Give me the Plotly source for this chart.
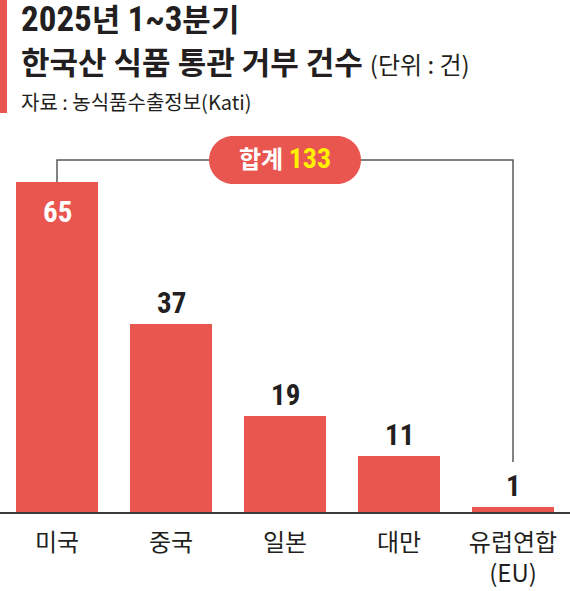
import plotly.graph_objects as go

# ---- data ----
categories = ["미국", "중국", "일본", "대만", "유럽연합<br>(EU)"]
values = [65, 37, 19, 11, 1]
total_label = "133"

# ---- style ----
W, H = 570, 591
BASE_PX = 512          # pixel row of the baseline
PX_PER_UNIT = 5.077
RED = "#E9554F"
TXT = "#231f20"
NARROW = ("Roboto Condensed, Liberation Sans Narrow, DejaVu Sans Condensed, "
          "Noto Sans CJK KR, sans-serif")
KR = "Noto Sans CJK KR, sans-serif"

ymax = BASE_PX / PX_PER_UNIT


def px(p):
    return p / W


def py(p):
    return (BASE_PX - p) / BASE_PX


fig = go.Figure()
fig.add_trace(go.Bar(
    x=list(range(len(values))), y=values, width=0.72,
    marker=dict(color=RED, line=dict(width=0)),
    hoverinfo="skip",
))

annotations = []
# value labels
for i, v in enumerate(values):
    inside = (i == 0)
    annotations.append(dict(
        x=i, y=v, xref="x", yref="y", text=f"<b>{v}</b>", showarrow=False,
        yanchor="middle", xanchor="center", yshift=-30 if inside else 21,
        font=dict(family=NARROW, size=29, color="white" if inside else TXT),
    ))

# titles
D = "<span style='font-size:35px'>"
annotations += [
    dict(x=px(19), y=py(19), xref="paper", yref="paper", xanchor="left", yanchor="middle",
         text=f"<b>{D}2025</span>년 {D}1~3</span>분기</b>", showarrow=False,
         font=dict(family=NARROW, size=31, color=TXT)),
    dict(x=px(19), y=py(60), xref="paper", yref="paper", xanchor="left", yanchor="middle",
         text="<b>한국산 식품 통관 거부 건수</b> <span style='font-size:24px'>(단위 : 건)</span>",
         showarrow=False, font=dict(family=KR, size=31, color=TXT)),
    dict(x=px(19), y=py(101), xref="paper", yref="paper", xanchor="left", yanchor="middle",
         text="자료 : 농식품수출정보(Kati)", showarrow=False,
         font=dict(family=KR, size=20, color=TXT)),
    dict(x=px(284.5), y=py(158), xref="paper", yref="paper", xanchor="center", yanchor="middle",
         text=f"<b>합계 <span style='color:#FFF200;font-size:28px'>{total_label}</span></b>",
         showarrow=False, font=dict(family=NARROW, size=24, color="white")),
]

# bracket
BRACKET_Y = (BASE_PX - 160) / PX_PER_UNIT
END_Y = (BASE_PX - 462) / PX_PER_UNIT
shapes = [
    dict(type="path", xref="x", yref="y",
         path=f"M 0,{values[0]} V {BRACKET_Y} H {len(values)-1} V {END_Y}",
         line=dict(color="#58595b", width=1.5), layer="above"),
    dict(type="rect", xref="paper", yref="paper", x0=0, x1=px(7), y0=py(113), y1=py(0),
         fillcolor=RED, line=dict(width=0)),
]

# pill
L, R, T, B = 209, 361, 136, 184
r = (B - T) / 2
cy = (T + B) / 2
k = 0.5523 * r


def P(a, b):
    return f"{px(a):.5f},{py(b):.5f}"


pill = (f"M {P(L + r, T)} L {P(R - r, T)} "
        f"C {P(R - r + k, T)} {P(R, cy - k)} {P(R, cy)} "
        f"C {P(R, cy + k)} {P(R - r + k, B)} {P(R - r, B)} "
        f"L {P(L + r, B)} "
        f"C {P(L + r - k, B)} {P(L, cy + k)} {P(L, cy)} "
        f"C {P(L, cy - k)} {P(L + r - k, T)} {P(L + r, T)} Z")
shapes.append(dict(type="path", xref="paper", yref="paper", path=pill,
                   fillcolor=RED, line=dict(width=0), layer="above"))

fig.update_layout(
    width=W, height=H, margin=dict(l=0, r=0, t=0, b=H - BASE_PX, pad=0),
    paper_bgcolor="white", plot_bgcolor="white", showlegend=False,
    annotations=annotations, shapes=shapes, bargap=0,
    xaxis=dict(range=[-0.5, len(values) - 0.5], tickvals=list(range(len(values))),
               ticktext=categories, showgrid=False, zeroline=False,
               showline=True, linecolor="#3a3a3a", linewidth=1.5, ticks="",
               ticklabelstandoff=8,
               tickfont=dict(family=KR, size=24, color=TXT), fixedrange=True),
    yaxis=dict(range=[0, ymax], visible=False, fixedrange=True),
)

fig.write_html("out.html", config={"displayModeBar": False},
               post_script="document.body.style.margin='0';document.body.style.padding='0';")
